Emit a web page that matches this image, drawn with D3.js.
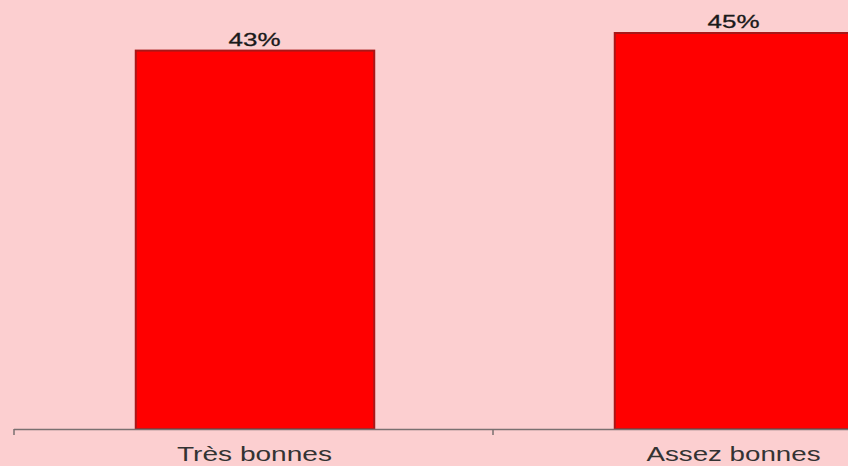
<!DOCTYPE html>
<html><head><meta charset="utf-8">
<script src="https://cdn.jsdelivr.net/npm/d3@7"></script>
<style>html,body{margin:0;padding:0;background:#FCCFD0;}svg{display:block;}</style>
</head><body>
<svg id="chart" width="848" height="466"></svg>
<script>
const categories = ["Très bonnes", "Assez bonnes"];
const values = [43, 45];
const valueLabels = ["43%", "45%"];

const svg = d3.select("#chart");
svg.append("rect").attr("width",848).attr("height",466).attr("fill","#FCCFD0");

const x = d3.scaleBand().domain(categories).range([14, 972]).paddingInner(0.5).paddingOuter(0.25);
const y = d3.scaleLinear().domain([0, 50]).range([429, -11]);

svg.selectAll("rect.bar").data(values).enter().append("rect")
  .attr("class","bar")
  .attr("x",(d,i)=>x(categories[i])+2)
  .attr("y",d=>y(d))
  .attr("width",x.bandwidth()-1)
  .attr("height",d=>y(0)-y(d))
  .attr("fill","#FF0000")
  .attr("stroke","#A81818")
  .attr("stroke-width",2);

svg.selectAll("text.val").data(values).enter().append("text")
  .attr("class","val")
  .attr("x",(d,i)=>x(categories[i])+x.bandwidth()/2+1)
  .attr("y",d=>y(d)-5)
  .attr("text-anchor","middle")
  .attr("font-family","Liberation Sans, Arial, sans-serif")
  .attr("font-size",19)
  .attr("fill","#1a1a1a")
  .attr("stroke","#1a1a1a")
  .attr("stroke-width",0.3)
  .attr("textLength",52)
  .attr("lengthAdjust","spacingAndGlyphs")
  .text((d,i)=>valueLabels[i]);

// axis
const axisG = svg.append("g");
axisG.append("line").attr("x1",14).attr("x2",848).attr("y1",y(0)+0.5).attr("y2",y(0)+0.5)
  .attr("stroke","#7a7070").attr("stroke-width",1.5);
const tickPos = [14, 14 + x.step(), 14 + 2*x.step()];
axisG.selectAll("line.tick").data(tickPos).enter().append("line")
  .attr("x1",d=>d).attr("x2",d=>d).attr("y1",y(0)).attr("y2",y(0)+6)
  .attr("stroke","#7a7070").attr("stroke-width",1.5);

const catWidths = [155, 174];
svg.selectAll("text.cat").data(categories).enter().append("text")
  .attr("class","cat")
  .attr("x",d=>x(d)+x.bandwidth()/2+1)
  .attr("y",461)
  .attr("text-anchor","middle")
  .attr("font-family","Liberation Sans, Arial, sans-serif")
  .attr("font-size",20)
  .attr("fill","#333")
  .attr("textLength",(d,i)=>catWidths[i])
  .attr("lengthAdjust","spacingAndGlyphs")
  .text(d=>d);
</script>
</body></html>
